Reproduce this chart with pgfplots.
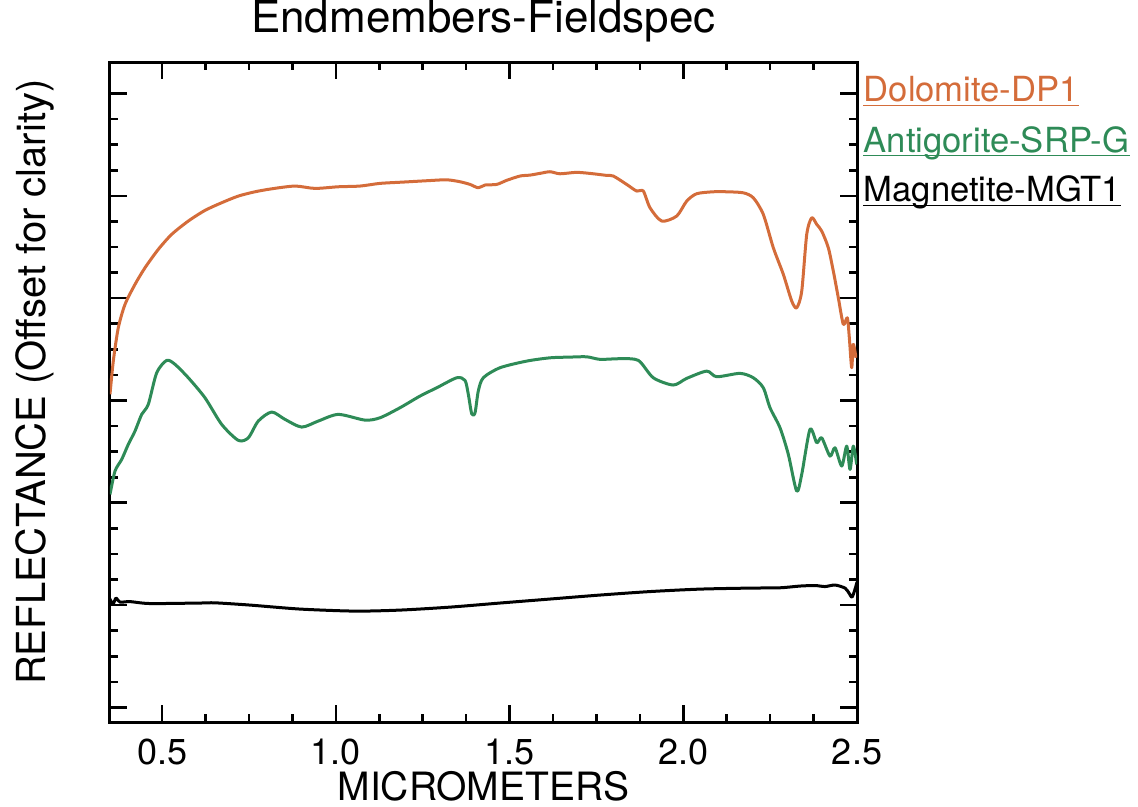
\documentclass[border=0pt]{standalone}
\usepackage{pgfplots}
\pgfplotsset{compat=1.18}
\usepackage{fontspec}
\setmainfont{TeX Gyre Heros}
\definecolor{dolo}{RGB}{212,108,58}
\definecolor{anti}{RGB}{46,139,87}
\begin{document}
\begin{tikzpicture}
\path (-55pt,-42pt) rectangle (514pt,360.5pt);
\begin{axis}[
    scale only axis,
    width=373.5pt, height=330pt,
    xmin=0.35, xmax=2.5,
    ymin=-0.1437, ymax=6.308,
    xtick={0.5,1.0,1.5,2.0,2.5},
    xticklabels={0.5,1.0,1.5,2.0,2.5},
    ytick={0,1,2,3,4,5,6},
    yticklabels={},
    minor x tick num=3,
    minor y tick num=3,
    tick align=inside,
    major tick length=8.5pt,
    minor tick length=4.2pt,
    every tick/.style={black, line width=1.3pt},
    axis line style={line width=1.5pt},
    /pgf/number format/assume math mode=true,
    tick label style={font=\fontsize{18}{20}\selectfont},
    xticklabel style={yshift=-5pt},
    title={Endmembers-Fieldspec},
    title style={at={(axis description cs:0.5,1)}, anchor=base, yshift=9pt,
                 inner sep=0pt, font=\fontsize{22}{24}\selectfont},
    xlabel={MICROMETERS},
    xlabel style={at={(axis description cs:0.5,0)}, anchor=base, yshift=-39pt,
                  inner sep=0pt, font=\fontsize{19.5}{22}\selectfont},
    ylabel={REFLECTANCE (Offset for clarity)},
    ylabel style={at={(axis description cs:-0.0857,0.515)}, anchor=base, rotate=0,
                  inner sep=0pt, font=\fontsize{20}{22}\selectfont},
    every axis plot/.append style={line width=1.5pt, line join=round, smooth, tension=0.45},
]
% Dolomite-DP1
\addplot[dolo] coordinates {
(0.350,3.060) (0.3595,3.385) (0.3739,3.711) (0.3932,3.939) (0.4220,4.135)
(0.4507,4.297) (0.4890,4.477) (0.5276,4.624) (0.5754,4.754) (0.6234,4.858)
(0.6715,4.933) (0.7193,4.998) (0.7673,5.040) (0.8154,5.069) (0.8825,5.096)
(0.9400,5.073) (1.0071,5.089) (1.0696,5.096) (1.1271,5.122) (1.1942,5.135)
(1.2615,5.148) (1.3191,5.157) (1.3574,5.138) (1.3862,5.112) (1.4100,5.079)
(1.4293,5.106) (1.4630,5.112) (1.4918,5.152) (1.5301,5.194) (1.5588,5.203)
(1.5876,5.220) (1.6164,5.236) (1.6452,5.216) (1.6933,5.230) (1.7411,5.216)
(1.7796,5.200) (1.7986,5.194) (1.8371,5.112) (1.8659,5.047) (1.8849,5.047)
(1.9042,4.884) (1.9379,4.754) (1.9811,4.803) (2.0098,4.949) (2.0386,5.021)
(2.0864,5.040) (2.1250,5.040) (2.1728,5.030) (2.2015,4.981) (2.2303,4.819)
(2.2591,4.493) (2.2879,4.233) (2.3121,3.972) (2.3264,3.906) (2.3409,4.069)
(2.3553,4.624) (2.3697,4.786) (2.3841,4.721) (2.3984,4.656) (2.4174,4.493)
(2.4318,4.265) (2.4462,4.004) (2.4606,3.744) (2.4721,3.808) (2.4779,3.613)
(2.4847,3.320) (2.4893,3.548) (2.4971,3.417)
};
% Antigorite-SRP-G
\addplot[anti] coordinates {
(0.350,2.082) (0.3644,2.310) (0.3837,2.424) (0.4027,2.571) (0.4220,2.701)
(0.4412,2.864) (0.4602,2.962) (0.4844,3.271) (0.5132,3.392) (0.5371,3.353)
(0.5754,3.222) (0.6234,3.026) (0.6715,2.766) (0.7193,2.610) (0.7481,2.635)
(0.7768,2.799) (0.8154,2.887) (0.8537,2.815) (0.9018,2.740) (0.9495,2.799)
(1.0071,2.864) (1.0839,2.808) (1.1271,2.831) (1.1847,2.929) (1.2422,3.043)
(1.2903,3.124) (1.3479,3.222) (1.3718,3.196) (1.3813,3.060) (1.3911,2.870)
(1.4006,2.880) (1.4100,3.092) (1.4244,3.222) (1.4725,3.320) (1.5493,3.385)
(1.6164,3.417) (1.6740,3.424) (1.7221,3.427) (1.7603,3.402) (1.8179,3.408)
(1.8705,3.392) (1.9137,3.222) (1.9713,3.151) (2.0098,3.216) (2.0674,3.287)
(2.0962,3.232) (2.1633,3.265) (2.2015,3.222) (2.2303,3.124) (2.2496,2.929)
(2.2784,2.733) (2.3023,2.473) (2.3264,2.114) (2.3409,2.278) (2.3647,2.718)
(2.3840,2.587) (2.3984,2.635) (2.4223,2.456) (2.4367,2.538) (2.4560,2.359)
(2.4704,2.554) (2.4799,2.326) (2.4893,2.554) (2.4991,2.375)
};
% Magnetite-MGT1
\addplot[black] coordinates {
(0.350,1.059) (0.3586,1.010) (0.3673,1.068) (0.3788,1.029) (0.4076,1.034)
(0.4651,1.015) (0.6090,1.020) (0.6522,1.022) (0.7529,1.000) (0.8969,0.961)
(1.0552,0.941) (1.1847,0.951) (1.3286,0.980) (1.4725,1.020) (1.6164,1.059)
(1.7603,1.098) (1.9042,1.132) (2.0481,1.156) (2.1920,1.166) (2.2784,1.169)
(2.3360,1.186) (2.3791,1.191) (2.4079,1.181) (2.4367,1.196) (2.4655,1.166)
(2.4770,1.117) (2.4856,1.078) (2.4943,1.156) (2.5000,1.225)
};
\end{axis}
\begin{scope}[every node/.style={anchor=base west, inner sep=0pt,
                                 font=\fontsize{17.3}{20}\selectfont}]
\node[text=dolo]  (l1) at (376.7pt,310.2pt) {Dolomite-DP1};
\node[text=anti]  (l2) at (376.7pt,285.0pt) {Antigorite-SRP-G};
\node[text=black] (l3) at (376.7pt,260.2pt) {Magnetite-MGT1};
\end{scope}
\draw[dolo, line width=0.6pt]  ([yshift=-1.8pt]l1.base west) -- ([yshift=-1.8pt]l1.base east);
\draw[anti, line width=0.6pt]  ([yshift=-1.8pt]l2.base west) -- ([yshift=-1.8pt]l2.base east);
\draw[black, line width=0.6pt] ([yshift=-1.8pt]l3.base west) -- ([yshift=-1.8pt]l3.base east);
\end{tikzpicture}
\end{document}
